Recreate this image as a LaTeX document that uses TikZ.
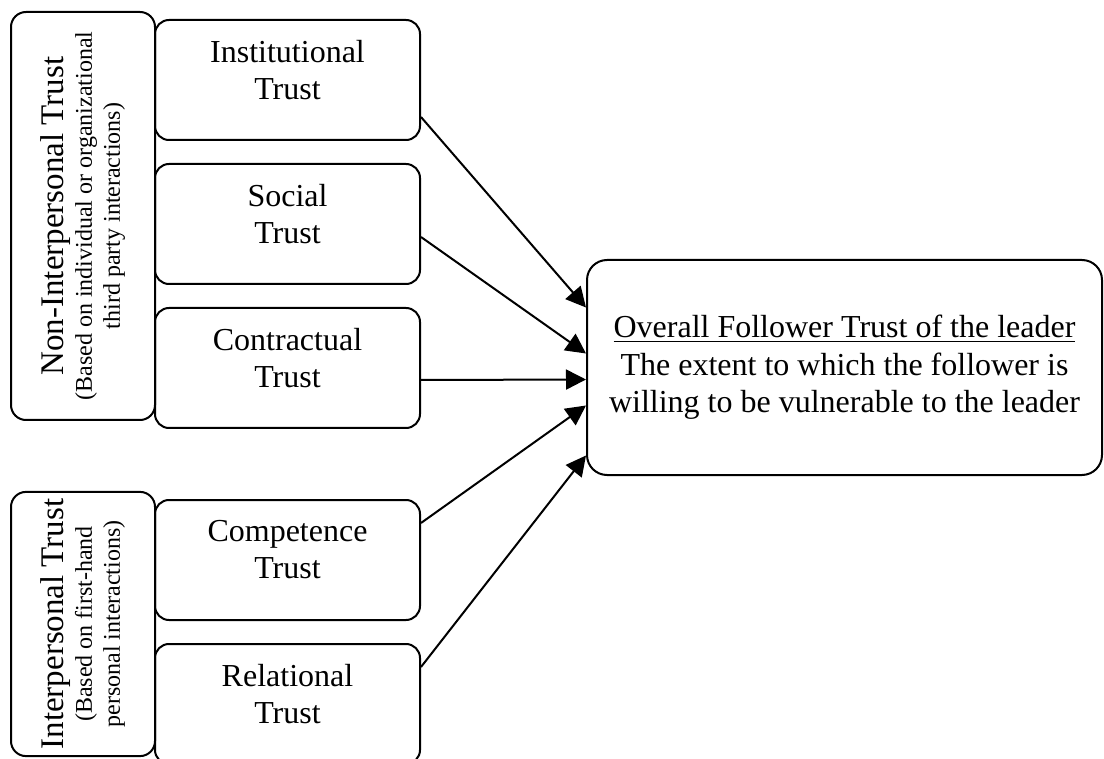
\documentclass[tikz,border=0pt]{standalone}
\usepackage{fontspec}
\setmainfont{Liberation Serif}
\usetikzlibrary{positioning, arrows.meta, calc}

\begin{document}
\begin{tikzpicture}[x=0.5pt, y=-0.5pt, node distance=11pt]

	\tikzstyle{trust}=[draw, line width=1pt, rounded corners=7pt, minimum width=132.5pt, minimum height=60pt, align=center, text depth=10.5pt, font=\fontsize{16}{18.5}\selectfont]
	\tikzstyle{group}=[draw, line width=1pt, rounded corners=7.5pt, rotate=90, minimum height=72pt, align=center, font=\fontsize{12}{14}\selectfont]
	\tikzstyle{overall}=[draw, line width=1pt, rounded corners=10pt, minimum width=257.5pt, minimum height=107.5pt, align=center, font=\fontsize{16}{18.75}\selectfont]

	\tikzstyle{link}=[-{Triangle[length=10pt, width=10pt]}, line width=1pt]

	\useasboundingbox[fill=white] (0,0) rectangle (1104,759);

	% the two groups
	\node[group, minimum width=204pt] (nonpers) at (83,216) {{\fontsize{16.5}{18.5}\selectfont Non-Interpersonal Trust}\\(Based on individual or organizational\\third party interactions)};
	\node[group, minimum width=132pt] (pers) at (83,624) {{\fontsize{16.5}{18.5}\selectfont Interpersonal Trust}\\(Based on first-hand\\personal interactions)};

	% kinds of trust
	\node[trust, anchor=north west] (inst) at (154,19) {Institutional\\Trust};
	\node[trust, below=of inst] (social) {Social\\Trust};
	\node[trust, below=of social] (contract) {Contractual\\Trust};

	\node[trust, anchor=north west] (compet) at (154,499) {Competence\\Trust};
	\node[trust, below=of compet] (relat) {Relational\\Trust};

	\node[overall] (follower) at (844.5,367.5) {\underline{Overall Follower Trust of the leader}\\The extent to which the follower is\\willing to be vulnerable to the leader};

	\draw[link] ([yshift=-18.5pt]inst.east) -- ([yshift=30pt]follower.west);
	\draw[link] ([yshift=-6.5pt]social.east) -- ([yshift=7pt]follower.west);
	\draw[link] ([yshift=-6pt]contract.east) -- ([yshift=-6pt]follower.west);
	\draw[link] ([yshift=18.5pt]compet.east) -- ([yshift=-19pt]follower.west);
	\draw[link] ([yshift=18.5pt]relat.east) -- ([yshift=-44pt]follower.west);

\end{tikzpicture}
\end{document}
